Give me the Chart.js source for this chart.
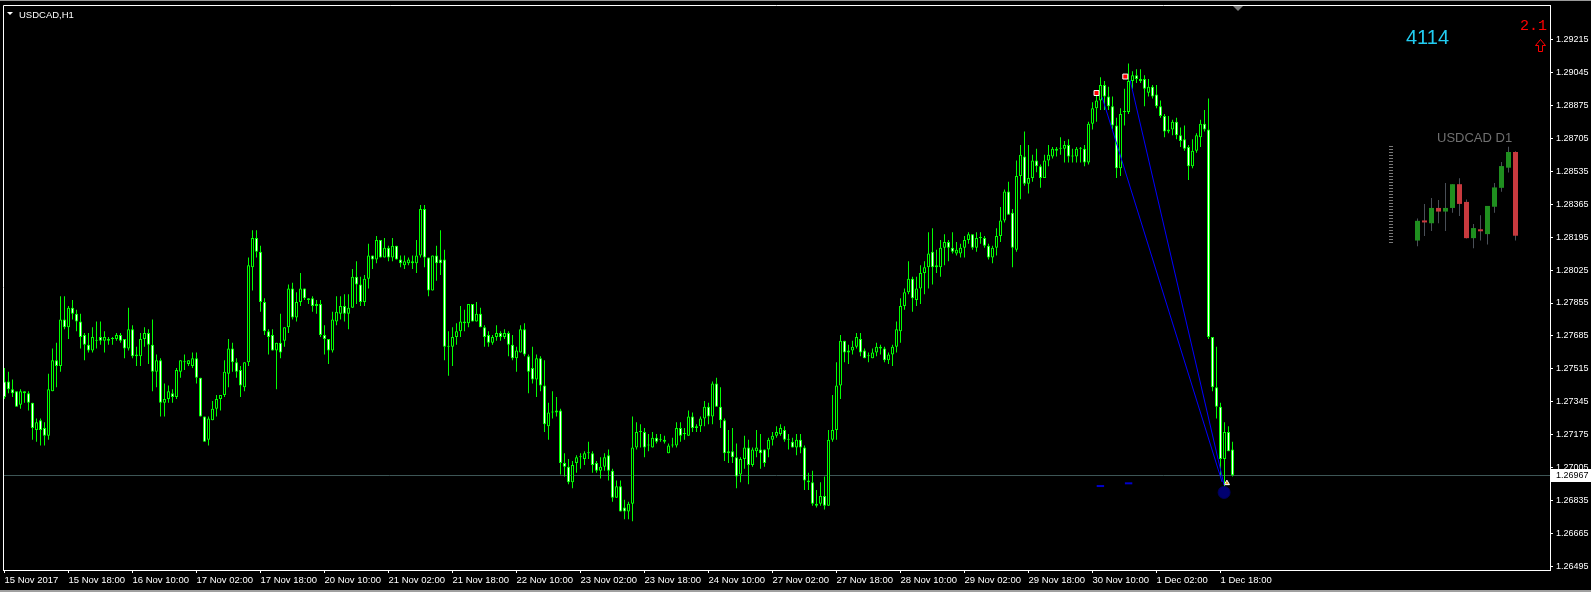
<!DOCTYPE html>
<html><head><meta charset="utf-8">
<script src="https://cdn.jsdelivr.net/npm/chart.js@4.4.1/dist/chart.umd.min.js"></script>
<style>
html,body{margin:0;padding:0;background:#000;width:1591px;height:592px;overflow:hidden}
#wrap{position:relative;width:1591px;height:592px}
canvas{position:absolute;left:0;top:0}
.t{position:absolute;white-space:nowrap;line-height:1;font-family:'Liberation Sans',Arial,sans-serif}
</style></head><body>
<div id="wrap">
<canvas id="c" width="1591" height="592"></canvas>
<div class="t" style="left:19px;top:10px;font-size:9.5px;color:#fff">USDCAD,H1</div>
<div class="t" style="left:1406px;top:27px;font-size:20px;color:#22cdf2">4114</div>
<div class="t" style="left:1520px;top:19px;font-size:15px;color:#f00;font-family:'Liberation Mono',monospace">2.1</div>
<div class="t" style="left:1437px;top:131px;font-size:13px;color:#707070">USDCAD D1</div>
</div>
<script>
// ---- H1 bars, USDCAD, 15 Nov 2017 02:00 .. 1 Dec 2017 21:00 ----
const open = [
1.2745,1.2745,1.2741,1.2740,1.2733,1.2740,1.2739,1.2734,1.2720,1.2725,
1.2721,1.2717,1.2740,1.2756,1.2753,1.2777,1.2773,1.2783,1.2780,1.2776,
1.2769,1.2764,1.2761,1.2766,1.2768,1.2766,1.2767,1.2767,1.2767,1.2769,
1.2767,1.2762,1.2772,1.2759,1.2758,1.2767,1.2770,1.2764,1.2750,1.2756,
1.2734,1.2736,1.2739,1.2737,1.2750,1.2755,1.2754,1.2753,1.2757,1.2747,
1.2727,1.2715,1.2725,1.2731,1.2736,1.2738,1.2749,1.2762,1.2755,1.2751,
1.2742,1.2755,1.2804,1.2819,1.2812,1.2786,1.2771,1.2769,1.2761,1.2765,
1.2766,1.2773,1.2793,1.2778,1.2786,1.2793,1.2788,1.2788,1.2784,1.2785,
1.2769,1.2767,1.2761,1.2776,1.2780,1.2784,1.2780,1.2783,1.2799,1.2795,
1.2786,1.2798,1.2810,1.2808,1.2818,1.2809,1.2814,1.2809,1.2815,1.2808,
1.2805,1.2806,1.2807,1.2806,1.2810,1.2834,1.2809,1.2792,1.2810,1.2808,
1.2808,1.2763,1.2763,1.2768,1.2771,1.2775,1.2775,1.2785,1.2776,1.2780,
1.2773,1.2769,1.2765,1.2768,1.2770,1.2768,1.2770,1.2764,1.2757,1.2760,
1.2772,1.2758,1.2752,1.2746,1.2757,1.2743,1.2722,1.2729,1.2729,1.2730,
1.2703,1.2701,1.2693,1.2703,1.2706,1.2705,1.2708,1.2708,1.2703,1.2699,
1.2701,1.2707,1.2699,1.2685,1.2691,1.2680,1.2678,1.2682,1.2711,1.2719,
1.2719,1.2712,1.2711,1.2716,1.2715,1.2715,1.2708,1.2712,1.2712,1.2721,
1.2718,1.2717,1.2727,1.2721,1.2722,1.2726,1.2732,1.2727,1.2744,1.2732,
1.2725,1.2709,1.2709,1.2706,1.2697,1.2705,1.2711,1.2702,1.2709,1.2710,
1.2710,1.2710,1.2715,1.2717,1.2718,1.2720,1.2715,1.2714,1.2711,1.2715,
1.2711,1.2694,1.2693,1.2682,1.2682,1.2686,1.2681,1.2715,1.2720,1.2743,
1.2766,1.2761,1.2761,1.2763,1.2767,1.2761,1.2758,1.2757,1.2760,1.2763,
1.2762,1.2756,1.2759,1.2763,1.2771,1.2784,1.2791,1.2798,1.2787,1.2793,
1.2801,1.2804,1.2812,1.2805,1.2804,1.2814,1.2817,1.2814,1.2811,1.2811,
1.2814,1.2818,1.2821,1.2814,1.2819,1.2819,1.2815,1.2809,1.2814,1.2820,
1.2828,1.2843,1.2832,1.2813,1.2851,1.2861,1.2847,1.2850,1.2859,1.2856,
1.2850,1.2859,1.2861,1.2865,1.2865,1.2865,1.2867,1.2861,1.2861,1.2865,
1.2865,1.2858,1.2878,1.2886,1.2890,1.2898,1.2892,1.2887,1.2877,1.2855,
1.2884,1.2884,1.2900,1.2903,1.2901,1.2901,1.2894,1.2897,1.2893,1.2887,
1.2882,1.2875,1.2875,1.2879,1.2872,1.2870,1.2866,1.2856,1.2864,1.2871,
1.2878,1.2875,1.2768,1.2742,1.2732,1.2705,1.2719,1.2710];
const high = [
1.2752,1.2750,1.2746,1.2740,1.2741,1.2740,1.2740,1.2734,1.2726,1.2726,
1.2724,1.2749,1.2762,1.2765,1.2789,1.2789,1.2784,1.2787,1.2782,1.2780,
1.2770,1.2770,1.2773,1.2776,1.2776,1.2771,1.2768,1.2768,1.2770,1.2770,
1.2767,1.2783,1.2774,1.2763,1.2770,1.2773,1.2772,1.2777,1.2759,1.2757,
1.2744,1.2743,1.2741,1.2752,1.2756,1.2759,1.2756,1.2760,1.2760,1.2747,
1.2727,1.2727,1.2735,1.2738,1.2738,1.2756,1.2767,1.2765,1.2757,1.2753,
1.2755,1.2809,1.2823,1.2823,1.2815,1.2788,1.2772,1.2772,1.2765,1.2780,
1.2773,1.2795,1.2796,1.2791,1.2801,1.2793,1.2788,1.2789,1.2787,1.2787,
1.2774,1.2767,1.2781,1.2789,1.2789,1.2790,1.2790,1.2803,1.2807,1.2799,
1.2800,1.2816,1.2810,1.2820,1.2818,1.2819,1.2815,1.2819,1.2815,1.2810,
1.2810,1.2809,1.2810,1.2818,1.2836,1.2836,1.2809,1.2810,1.2815,1.2823,
1.2813,1.2771,1.2773,1.2775,1.2784,1.2782,1.2785,1.2785,1.2786,1.2783,
1.2774,1.2771,1.2769,1.2774,1.2771,1.2772,1.2771,1.2769,1.2763,1.2774,
1.2775,1.2759,1.2763,1.2759,1.2758,1.2756,1.2734,1.2740,1.2737,1.2731,
1.2708,1.2705,1.2704,1.2707,1.2708,1.2709,1.2714,1.2709,1.2704,1.2706,
1.2708,1.2710,1.2700,1.2694,1.2694,1.2684,1.2683,1.2727,1.2724,1.2723,
1.2721,1.2718,1.2719,1.2718,1.2718,1.2717,1.2713,1.2716,1.2724,1.2724,
1.2721,1.2730,1.2729,1.2723,1.2727,1.2735,1.2734,1.2745,1.2747,1.2742,
1.2726,1.2720,1.2721,1.2713,1.2706,1.2717,1.2715,1.2711,1.2720,1.2718,
1.2710,1.2716,1.2719,1.2722,1.2723,1.2722,1.2718,1.2716,1.2718,1.2718,
1.2712,1.2698,1.2699,1.2689,1.2693,1.2696,1.2720,1.2738,1.2755,1.2769,
1.2766,1.2764,1.2766,1.2770,1.2770,1.2762,1.2760,1.2762,1.2765,1.2764,
1.2763,1.2760,1.2764,1.2776,1.2788,1.2793,1.2807,1.2799,1.2799,1.2805,
1.2807,1.2822,1.2824,1.2813,1.2818,1.2821,1.2818,1.2822,1.2817,1.2816,
1.2820,1.2822,1.2821,1.2822,1.2822,1.2820,1.2816,1.2815,1.2824,1.2835,
1.2844,1.2848,1.2834,1.2859,1.2867,1.2874,1.2867,1.2862,1.2865,1.2857,
1.2862,1.2867,1.2866,1.2866,1.2871,1.2869,1.2870,1.2865,1.2866,1.2866,
1.2867,1.2879,1.2889,1.2895,1.2902,1.2900,1.2897,1.2892,1.2881,1.2886,
1.2896,1.2909,1.2905,1.2906,1.2906,1.2903,1.2901,1.2898,1.2898,1.2890,
1.2883,1.2882,1.2880,1.2881,1.2876,1.2877,1.2867,1.2870,1.2873,1.2880,
1.2885,1.2891,1.2768,1.2763,1.2734,1.2724,1.2722,1.2714];
const low = [
1.2736,1.2739,1.2737,1.2732,1.2731,1.2734,1.2730,1.2715,1.2714,1.2712,
1.2712,1.2715,1.2740,1.2742,1.2750,1.2772,1.2767,1.2777,1.2771,1.2762,
1.2756,1.2760,1.2760,1.2762,1.2764,1.2760,1.2764,1.2764,1.2766,1.2765,
1.2757,1.2761,1.2757,1.2753,1.2753,1.2763,1.2754,1.2740,1.2742,1.2727,
1.2727,1.2734,1.2734,1.2736,1.2747,1.2751,1.2753,1.2752,1.2744,1.2727,
1.2714,1.2712,1.2725,1.2727,1.2730,1.2737,1.2742,1.2750,1.2747,1.2737,
1.2740,1.2753,1.2792,1.2809,1.2781,1.2769,1.2759,1.2761,1.2741,1.2757,
1.2763,1.2770,1.2777,1.2776,1.2784,1.2787,1.2785,1.2781,1.2780,1.2768,
1.2759,1.2754,1.2760,1.2774,1.2777,1.2776,1.2772,1.2783,1.2785,1.2784,
1.2784,1.2793,1.2803,1.2806,1.2809,1.2809,1.2807,1.2807,1.2808,1.2804,
1.2803,1.2805,1.2803,1.2801,1.2809,1.2804,1.2789,1.2792,1.2797,1.2800,
1.2756,1.2748,1.2753,1.2764,1.2768,1.2771,1.2773,1.2776,1.2776,1.2773,
1.2763,1.2763,1.2764,1.2766,1.2766,1.2767,1.2758,1.2756,1.2750,1.2760,
1.2758,1.2739,1.2744,1.2737,1.2740,1.2719,1.2715,1.2726,1.2727,1.2697,
1.2696,1.2692,1.2690,1.2698,1.2700,1.2702,1.2705,1.2698,1.2698,1.2695,
1.2699,1.2694,1.2683,1.2685,1.2678,1.2674,1.2674,1.2673,1.2710,1.2711,
1.2706,1.2709,1.2711,1.2713,1.2714,1.2713,1.2708,1.2711,1.2711,1.2714,
1.2715,1.2717,1.2719,1.2719,1.2719,1.2722,1.2723,1.2723,1.2732,1.2721,
1.2704,1.2703,1.2703,1.2690,1.2693,1.2700,1.2692,1.2701,1.2706,1.2700,
1.2701,1.2706,1.2712,1.2716,1.2717,1.2714,1.2710,1.2711,1.2707,1.2708,
1.2689,1.2689,1.2681,1.2680,1.2681,1.2679,1.2681,1.2714,1.2715,1.2736,
1.2755,1.2754,1.2759,1.2762,1.2758,1.2757,1.2755,1.2757,1.2758,1.2759,
1.2755,1.2754,1.2753,1.2760,1.2765,1.2782,1.2790,1.2781,1.2784,1.2785,
1.2790,1.2793,1.2795,1.2801,1.2799,1.2805,1.2807,1.2811,1.2810,1.2809,
1.2809,1.2816,1.2813,1.2812,1.2816,1.2814,1.2808,1.2806,1.2810,1.2817,
1.2827,1.2831,1.2804,1.2812,1.2839,1.2846,1.2842,1.2848,1.2853,1.2845,
1.2850,1.2856,1.2860,1.2861,1.2862,1.2858,1.2858,1.2858,1.2858,1.2858,
1.2856,1.2857,1.2875,1.2879,1.2885,1.2885,1.2885,1.2875,1.2850,1.2851,
1.2877,1.2883,1.2896,1.2899,1.2899,1.2887,1.2892,1.2891,1.2886,1.2881,
1.2871,1.2873,1.2872,1.2870,1.2866,1.2864,1.2849,1.2855,1.2863,1.2866,
1.2874,1.2767,1.2740,1.2726,1.2696,1.2689,1.2709,1.2696];
const close = [
1.2737,1.2741,1.2739,1.2732,1.2740,1.2739,1.2734,1.2721,1.2724,1.2720,
1.2717,1.2741,1.2756,1.2753,1.2777,1.2773,1.2783,1.2780,1.2776,1.2768,
1.2764,1.2761,1.2768,1.2766,1.2766,1.2768,1.2766,1.2767,1.2769,1.2766,
1.2762,1.2772,1.2758,1.2758,1.2767,1.2770,1.2764,1.2750,1.2756,1.2734,
1.2736,1.2740,1.2737,1.2751,1.2756,1.2755,1.2756,1.2757,1.2747,1.2727,
1.2714,1.2726,1.2731,1.2736,1.2738,1.2750,1.2762,1.2755,1.2750,1.2743,
1.2755,1.2805,1.2819,1.2812,1.2786,1.2771,1.2768,1.2761,1.2765,1.2760,
1.2773,1.2793,1.2778,1.2786,1.2793,1.2788,1.2787,1.2784,1.2785,1.2769,
1.2767,1.2761,1.2777,1.2781,1.2784,1.2780,1.2783,1.2799,1.2795,1.2786,
1.2798,1.2810,1.2808,1.2818,1.2809,1.2814,1.2809,1.2815,1.2808,1.2806,
1.2807,1.2808,1.2806,1.2810,1.2834,1.2809,1.2792,1.2810,1.2806,1.2806,
1.2763,1.2763,1.2768,1.2771,1.2776,1.2776,1.2785,1.2776,1.2780,1.2773,
1.2768,1.2765,1.2768,1.2770,1.2768,1.2770,1.2764,1.2757,1.2761,1.2772,
1.2759,1.2750,1.2746,1.2757,1.2743,1.2723,1.2729,1.2729,1.2730,1.2703,
1.2701,1.2693,1.2702,1.2706,1.2706,1.2708,1.2708,1.2702,1.2699,1.2701,
1.2706,1.2699,1.2685,1.2691,1.2678,1.2678,1.2682,1.2711,1.2719,1.2719,
1.2711,1.2712,1.2716,1.2714,1.2715,1.2714,1.2712,1.2712,1.2721,1.2717,
1.2718,1.2727,1.2721,1.2722,1.2726,1.2732,1.2727,1.2744,1.2732,1.2725,
1.2708,1.2708,1.2706,1.2696,1.2705,1.2711,1.2702,1.2710,1.2711,1.2708,
1.2703,1.2715,1.2717,1.2719,1.2721,1.2715,1.2715,1.2711,1.2715,1.2711,
1.2694,1.2693,1.2682,1.2681,1.2686,1.2681,1.2715,1.2720,1.2743,1.2766,
1.2760,1.2760,1.2763,1.2768,1.2760,1.2757,1.2758,1.2760,1.2763,1.2762,
1.2756,1.2759,1.2763,1.2772,1.2784,1.2791,1.2798,1.2788,1.2793,1.2801,
1.2804,1.2811,1.2804,1.2804,1.2814,1.2817,1.2814,1.2812,1.2813,1.2814,
1.2818,1.2821,1.2814,1.2819,1.2819,1.2815,1.2809,1.2814,1.2820,1.2828,
1.2843,1.2831,1.2814,1.2851,1.2862,1.2847,1.2850,1.2859,1.2856,1.2850,
1.2859,1.2862,1.2865,1.2864,1.2865,1.2867,1.2861,1.2861,1.2865,1.2865,
1.2858,1.2878,1.2886,1.2890,1.2898,1.2892,1.2887,1.2877,1.2855,1.2883,
1.2884,1.2900,1.2903,1.2901,1.2900,1.2896,1.2897,1.2892,1.2887,1.2882,
1.2874,1.2874,1.2879,1.2872,1.2869,1.2865,1.2856,1.2864,1.2872,1.2878,
1.2875,1.2768,1.2742,1.2732,1.2705,1.2719,1.2709,1.26967];

// time axis (bar index of each label) and price axis ticks
const tickBars = [0,16,32,48,64,80,96,112,128,144,160,176,192,208,224,240,256,272,288,304];
const tickLabels = ['15 Nov 2017','15 Nov 18:00','16 Nov 10:00','17 Nov 02:00','17 Nov 18:00','20 Nov 10:00',
 '21 Nov 02:00','21 Nov 18:00','22 Nov 10:00','23 Nov 02:00','23 Nov 18:00','24 Nov 10:00','27 Nov 02:00',
 '27 Nov 18:00','28 Nov 10:00','29 Nov 02:00','29 Nov 18:00','30 Nov 10:00','1 Dec 02:00','1 Dec 18:00'];
const priceTicks = [1.26495,1.26665,1.26835,1.27005,1.27175,1.27345,1.27515,1.27685,1.27855,1.28025,
 1.28195,1.28365,1.28535,1.28705,1.28875,1.29045,1.29215];
const lastPrice = 1.26967;

// signal objects drawn on the H1 chart
const signalX = [273, 280.2];
const signalY = [1.28938, 1.29023];
const waveAX = [274.4, 304.4], waveAY = [1.28917, 1.26932];
const waveBX = [281.4, 304.9], waveBY = [1.29005, 1.26916];
const targetAX = [273.05, 274.9], targetAY = [1.26911, 1.26911];
const targetBX = [280.1, 281.95], targetBY = [1.26925, 1.26925];
const pivotX = [304.9], pivotY = [1.26878];
const goldX = [305.6], goldY = [1.26926];

// mini D1 panel (13 Nov .. 1 Dec 2017)
const miniOpen  = [1.2685,1.2734,1.2728,1.2766,1.2757,1.2766,1.2825,1.2781,1.2691,1.2711,1.2701,1.2769,1.2816,1.2866,1.2905];
const miniHigh  = [1.2740,1.2776,1.2791,1.2786,1.2828,1.2825,1.2840,1.2787,1.2726,1.2748,1.2771,1.2828,1.2880,1.2918,1.2907];
const miniLow   = [1.2671,1.2696,1.2709,1.2728,1.2709,1.2754,1.2746,1.2690,1.2666,1.2685,1.2675,1.2754,1.2806,1.2854,1.2685];
const miniClose = [1.2734,1.2730,1.2766,1.2757,1.2766,1.2825,1.2776,1.2691,1.2716,1.2708,1.2771,1.2817,1.2870,1.2905,1.2697];
const miniScaleX = [-3.786, -3.786], miniScaleY = [1.2920, 1.2679];

const LIME = '#00ff00';
const pts = (xs, ys) => xs.map((x, i) => ({x, y: ys[i]}));
const noPad = s => { s.paddingLeft = 0; s.paddingRight = 0; s.paddingTop = 0; s.paddingBottom = 0; };

const overlay = {
  id: 'overlay',
  beforeDatasetsDraw(chart) {
    const {ctx, chartArea: a, scales: {y}} = chart;
    const py = Math.round(y.getPixelForValue(lastPrice)) + 0.5;
    ctx.save();
    ctx.strokeStyle = '#3d5656'; ctx.lineWidth = 1;
    ctx.beginPath(); ctx.moveTo(a.left, py); ctx.lineTo(a.right, py); ctx.stroke();
    ctx.restore();
  },
  afterDraw(chart) {
    const {ctx, chartArea: a, scales: {y}} = chart;
    ctx.save();
    // window strips at the very top and bottom
    ctx.fillStyle = '#9a9a9a'; ctx.fillRect(0, 0, chart.width, 1);
    ctx.fillStyle = '#a0a0a0'; ctx.fillRect(0, chart.height - 2, chart.width, 2);
    // frame
    ctx.strokeStyle = '#ffffff'; ctx.lineWidth = 1;
    ctx.beginPath();
    ctx.moveTo(a.left + 0.5, a.bottom); ctx.lineTo(a.left + 0.5, a.top + 0.5); ctx.lineTo(a.right, a.top + 0.5);
    ctx.stroke();
    // symbol menu triangle
    ctx.fillStyle = '#ffffff';
    ctx.beginPath(); ctx.moveTo(7, 12); ctx.lineTo(13, 12); ctx.lineTo(10, 15); ctx.closePath(); ctx.fill();
    // chart shift marker
    ctx.fillStyle = '#7a7a7a';
    ctx.beginPath(); ctx.moveTo(1233, a.top + 1); ctx.lineTo(1243, a.top + 1); ctx.lineTo(1238, a.top + 6); ctx.closePath(); ctx.fill();
    // red hollow up arrow
    ctx.strokeStyle = '#ff0000';
    ctx.beginPath();
    ctx.moveTo(1540.5, 39.5); ctx.lineTo(1545.5, 45.5); ctx.lineTo(1542.5, 45.5); ctx.lineTo(1542.5, 51.5);
    ctx.lineTo(1538.5, 51.5); ctx.lineTo(1538.5, 45.5); ctx.lineTo(1535.5, 45.5); ctx.closePath();
    ctx.stroke();
    // current price label
    const py = Math.round(y.getPixelForValue(lastPrice));
    ctx.fillStyle = '#ffffff'; ctx.fillRect(a.right + 1, py - 6, chart.width - a.right - 1, 13);
    ctx.fillStyle = '#000000'; ctx.font = '9px "Liberation Sans", Arial, sans-serif';
    ctx.textBaseline = 'middle'; ctx.textAlign = 'left';
    ctx.fillText(lastPrice.toFixed(5), a.right + 6, py + 0.5);
    ctx.restore();
  }
};

new Chart(document.getElementById('c'), {
  type: 'bar',
  data: {
    datasets: [
      { type: 'line', data: pts(waveAX, waveAY), borderColor: '#0000ff', borderWidth: 1, pointRadius: 0, order: 0 },
      { type: 'line', data: pts(waveBX, waveBY), borderColor: '#0000ff', borderWidth: 1, pointRadius: 0, order: 0 },
      { type: 'line', data: pts(targetAX, targetAY), borderColor: '#0000cc', borderWidth: 2, pointRadius: 0, order: 0 },
      { type: 'line', data: pts(targetBX, targetBY), borderColor: '#0000cc', borderWidth: 2, pointRadius: 0, order: 0 },
      { type: 'line', data: pts(pivotX, pivotY), showLine: false, pointRadius: 6, pointBackgroundColor: '#000070', pointBorderColor: '#00005c', pointBorderWidth: 1, order: 0 },
      { type: 'line', data: pts(goldX, goldY), showLine: false, pointStyle: 'triangle', pointRadius: 3, pointBackgroundColor: '#e0a030', pointBorderColor: '#ffffff', pointBorderWidth: 1, order: 0 },
      { type: 'line', data: pts(signalX, signalY), showLine: false, pointStyle: 'rect', pointRadius: 3.5, pointBackgroundColor: '#ff0000', pointBorderColor: '#ffffff', pointBorderWidth: 1, order: 0 },
      { type: 'bar', label: 'body', data: open.map((o, i) => ({x: i, y: [o, close[i]]})),
        backgroundColor: ctx => (close[ctx.dataIndex] > open[ctx.dataIndex] ? '#000000' : '#ffffff'),
        borderColor: LIME, borderWidth: 1, borderSkipped: false, barThickness: 3, grouped: false,
        minBarLength: 1, inflateAmount: 0, order: 1 },
      { type: 'bar', label: 'wick', data: low.map((l, i) => ({x: i, y: [l, high[i]]})),
        backgroundColor: LIME, borderWidth: 0, barThickness: 1, grouped: false, inflateAmount: 0, order: 2 },
      // mini D1 panel
      { type: 'line', xAxisID: 'x2', yAxisID: 'y2', data: pts(miniScaleX, miniScaleY), borderColor: '#7a7a7a',
        borderWidth: 4, borderDash: [1, 2], borderCapStyle: 'butt', pointRadius: 0, order: 3 },
      { type: 'bar', xAxisID: 'x2', yAxisID: 'y2', data: miniOpen.map((o, i) => ({x: i, y: [o, miniClose[i]]})),
        backgroundColor: ctx => (miniClose[ctx.dataIndex] >= miniOpen[ctx.dataIndex] ? '#1f8f1f' : '#c83a3e'),
        borderWidth: 0, barThickness: 5, grouped: false, minBarLength: 2, inflateAmount: 0, order: 3 },
      { type: 'bar', xAxisID: 'x2', yAxisID: 'y2', data: miniLow.map((l, i) => ({x: i, y: [l, miniHigh[i]]})),
        backgroundColor: '#4a5058', borderWidth: 0, barThickness: 1, grouped: false, inflateAmount: 0, order: 4 }
    ]
  },
  options: {
    responsive: false, animation: false, events: [],
    layout: { autoPadding: false, padding: { left: 3, top: 5, right: 0, bottom: 0 } },
    plugins: { legend: { display: false }, tooltip: { enabled: false }, title: { display: false } },
    scales: {
      x: {
        type: 'linear', position: 'bottom', min: -0.375, max: 386.375, offset: false,
        grid: { display: true, drawOnChartArea: false, drawTicks: true, tickLength: 3, color: '#ffffff', offset: false },
        border: { display: true, color: '#ffffff', width: 1 },
        ticks: { autoSkip: false, maxRotation: 0, minRotation: 0, align: 'start', color: '#ffffff', padding: 2,
                 font: { family: "'Liberation Sans', Arial, sans-serif", size: 9.5 },
                 callback: (v, i) => tickLabels[i] },
        afterBuildTicks: s => { s.ticks = tickBars.map(v => ({ value: v })); },
        afterFit: s => { s.height = 22; noPad(s); }
      },
      y: {
        type: 'linear', position: 'right', min: 1.26478, max: 1.29392,
        grid: { display: true, drawOnChartArea: false, drawTicks: true, tickLength: 3, color: '#ffffff' },
        border: { display: true, color: '#ffffff', width: 1 },
        ticks: { color: '#ffffff', padding: 3, font: { family: "'Liberation Sans', Arial, sans-serif", size: 9 },
                 callback: v => Number(v).toFixed(5) },
        afterBuildTicks: s => { s.ticks = priceTicks.map(v => ({ value: v })); },
        afterFit: s => { s.width = 41; noPad(s); }
      },
      x2: { type: 'linear', display: false, min: -202.0714, max: 18.9286, offset: false, afterFit: noPad },
      y2: { type: 'linear', display: false, min: 1.186649, max: 1.327022, afterFit: noPad }
    }
  },
  plugins: [overlay]
});
</script>
</body></html>
